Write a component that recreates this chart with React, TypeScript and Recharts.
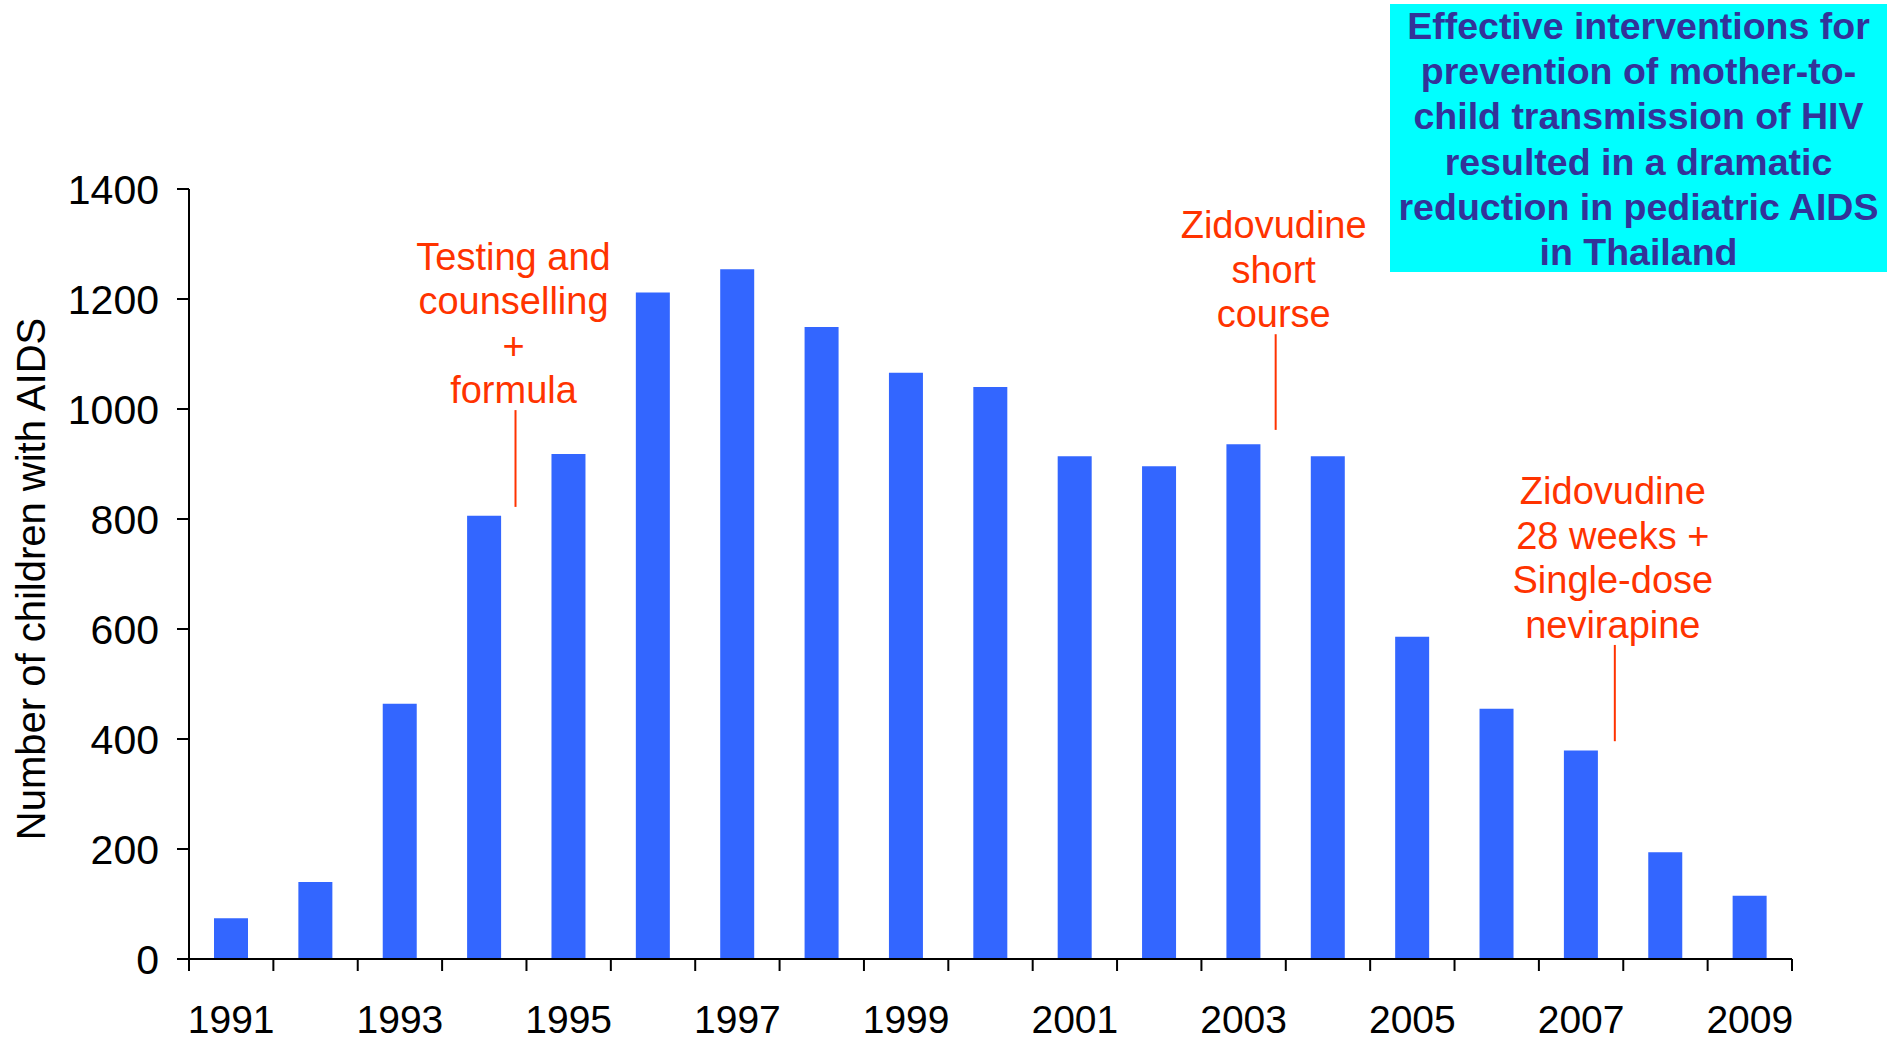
import { ComposedChart, Bar, XAxis, YAxis, ReferenceLine, Scatter } from 'recharts'

const years = [
  1991, 1992, 1993, 1994, 1995, 1996, 1997, 1998, 1999, 2000,
  2001, 2002, 2003, 2004, 2005, 2006, 2007, 2008, 2009,
]
const childrenWithAids = [
  74, 140, 464, 806, 918, 1212, 1254, 1149, 1066, 1040,
  914, 896, 936, 914, 586, 455, 379, 194, 115,
]

const yTicks = [0, 200, 400, 600, 800, 1000, 1200, 1400]
const labelYears = [1991, 1993, 1995, 1997, 1999, 2001, 2003, 2005, 2007, 2009]
// tick marks sit between the years
const boundaryTicks = [...years.map((y) => y - 0.5), 2009.5]

const annotationTexts = [
  ['Testing and', 'counselling', '+', 'formula'],
  ['Zidovudine', 'short', 'course'],
  ['Zidovudine', '28 weeks +', 'Single-dose', 'nevirapine'],
]
const annotationAt = [1994.37, 2003.38, 2007.4]
const annotationTop = [998, 1136, 571]
const annotationBottom = [822, 962, 396]

const titleLines = [
  'Effective interventions for',
  'prevention of mother-to-',
  'child transmission of HIV',
  'resulted in a dramatic',
  'reduction in pediatric AIDS',
  'in Thailand',
]

const FONT = '"Liberation Sans", Arial, Helvetica, sans-serif'
const BAR_BLUE = '#3366FF'
const NOTE_RED = '#FF3300'
const X_DOMAIN: [number, number] = [1990.5, 2009.5]

const rows = years.map((year, i) => ({ year, value: childrenWithAids[i] }))
const notes = annotationTexts.map((lines, i) => ({
  year: annotationAt[i],
  top: annotationTop[i],
  lines,
}))
const xTicks = [...boundaryTicks, ...labelYears].sort((a, b) => a - b)

const XTick = (props: any) => {
  const { x, y, payload } = props
  const v = payload?.value as number
  if (Number.isInteger(v)) {
    return (
      <text x={x} y={y + 74} textAnchor="middle" fontSize={39} fill="#000" fontFamily={FONT}>
        {v}
      </text>
    )
  }
  return <line x1={x} x2={x} y1={y} y2={y + 12} stroke="#000" strokeWidth={2} />
}

const YTitle = (props: any) => {
  const vb = props.viewBox ?? { x: 0, y: 189, width: 189, height: 770 }
  const cx = vb.x + 45
  const cy = vb.y + vb.height / 2 + 5
  return (
    <text
      transform={`translate(${cx}, ${cy}) rotate(-90)`}
      textAnchor="middle"
      fontSize={40}
      fill="#000"
      fontFamily={FONT}
    >
      Number of children with AIDS
    </text>
  )
}

const NoteText = (props: any) => {
  const { cx, cy, payload } = props
  const lines: string[] = payload?.lines ?? []
  const last = cy - 7
  return (
    <g>
      {lines.map((line, i) => (
        <text
          key={i}
          x={cx - 2}
          y={last - (lines.length - 1 - i) * 44.5}
          textAnchor="middle"
          fontSize={38}
          fill={NOTE_RED}
          fontFamily={FONT}
        >
          {line}
        </text>
      ))}
    </g>
  )
}

export default function App() {
  return (
    <div
      style={{
        position: 'absolute',
        left: 0,
        top: 0,
        width: 1892,
        height: 1043,
        background: '#fff',
        fontFamily: FONT,
      }}
    >
      <ComposedChart
        width={1892}
        height={1043}
        data={rows}
        margin={{ top: 189, right: 100, bottom: 0, left: 0 }}
      >
        <XAxis
          type="number"
          dataKey="year"
          domain={X_DOMAIN}
          ticks={xTicks}
          interval={0}
          tickLine={false}
          tickSize={0}
          tickMargin={0}
          height={84}
          axisLine={{ stroke: '#000', strokeWidth: 2 }}
          tick={<XTick />}
          allowDataOverflow
        />
        {/* separate hidden axis so the notes don't shrink the bar band */}
        <XAxis
          xAxisId="notes"
          type="number"
          dataKey="year"
          domain={X_DOMAIN}
          allowDataOverflow
          hide
        />
        <YAxis
          type="number"
          domain={[0, 1400]}
          ticks={yTicks}
          interval={0}
          width={189}
          tickSize={12}
          tickMargin={18}
          tickLine={{ stroke: '#000', strokeWidth: 2 }}
          axisLine={{ stroke: '#000', strokeWidth: 2 }}
          tick={{ fontSize: 41, fill: '#000', fontFamily: FONT }}
          label={<YTitle />}
          allowDataOverflow
        />
        <Bar dataKey="value" fill={BAR_BLUE} barSize={34} isAnimationActive={false} />
        {notes.map((n, i) => (
          <ReferenceLine
            key={i}
            xAxisId="notes"
            segment={[
              { x: n.year, y: annotationBottom[i] },
              { x: n.year, y: n.top },
            ]}
            stroke={NOTE_RED}
            strokeWidth={2}
          />
        ))}
        <Scatter
          xAxisId="notes"
          data={notes}
          dataKey="top"
          shape={<NoteText />}
          isAnimationActive={false}
        />
      </ComposedChart>
      <div
        style={{
          position: 'absolute',
          left: 1390,
          top: 4,
          width: 497,
          height: 268,
          background: '#00FFFF',
          color: '#333399',
          fontWeight: 'bold',
          fontSize: 37.5,
          lineHeight: '45.2px',
          textAlign: 'center',
          fontFamily: FONT,
        }}
      >
        {titleLines.map((t) => (
          <div key={t} style={{ whiteSpace: 'nowrap' }}>
            {t}
          </div>
        ))}
      </div>
    </div>
  )
}
